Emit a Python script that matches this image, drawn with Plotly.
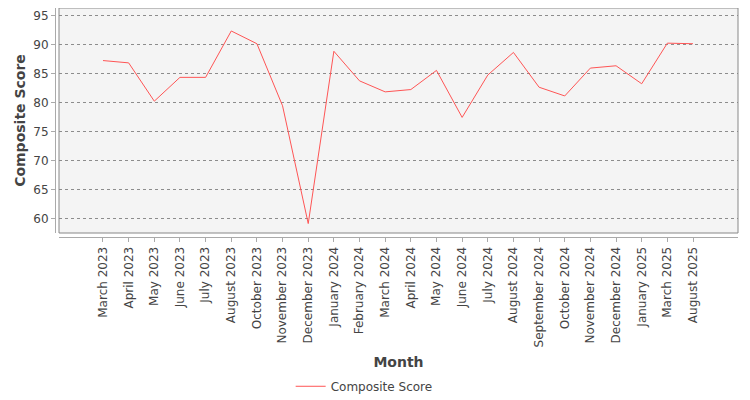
import plotly.graph_objs as go

months = [
    "March 2023", "April 2023", "May 2023", "June 2023", "July 2023",
    "August 2023", "October 2023", "November 2023", "December 2023",
    "January 2024", "February 2024", "March 2024", "April 2024", "May 2024",
    "June 2024", "July 2024", "August 2024", "September 2024", "October 2024",
    "November 2024", "December 2024", "January 2025", "March 2025", "August 2025",
]
composite_score = [
    87.2, 86.8, 80.2, 84.3, 84.3, 92.3, 90.1, 79.4, 59.1,
    88.8, 83.7, 81.8, 82.2, 85.5, 77.4, 84.7, 88.6, 82.6,
    81.1, 85.9, 86.3, 83.2, 90.2, 90.1,
]

# page body adds an 8px offset, so the figure is drawn 8px smaller
W, H = 742, 392
ml, mr, mt, mb = 47, 12, 0, 163
pw, ph = W - ml - mr, H - mt - mb
gap = 4

fig = go.Figure()
fig.add_trace(
    go.Scatter(
        x=months,
        y=composite_score,
        mode="lines",
        name="Composite Score",
        line=dict(color="#ff5555", width=1),
    )
)

fig.update_layout(
    width=W, height=H,
    margin=dict(l=ml, r=mr, t=mt, b=mb, autoexpand=False),
    paper_bgcolor="white",
    plot_bgcolor="#f4f4f4",
    font=dict(family="DejaVu Sans", size=12, color="#444444"),
    showlegend=True,
    legend=dict(
        orientation="h",
        xref="container", yref="container",
        x=0.48, xanchor="center",
        y=0.035, yanchor="middle",
        font=dict(size=12, color="#444444"),
        itemwidth=30,
    ),
    shapes=[
        dict(
            type="rect", xref="x domain", yref="y domain",
            x0=0, x1=1, y0=0, y1=1,
            line=dict(color="#888888", width=1),
            fillcolor="rgba(0,0,0,0)",
            layer="above",
        )
    ],
)

fig.update_xaxes(
    type="category",
    domain=[gap / pw, 1],
    anchor="free", position=0,
    range=[-1.715, 24.754],
    automargin=False,
    showgrid=False,
    showline=True, linecolor="#aaaaaa", linewidth=1,
    ticks="outside", ticklen=4, tickcolor="#aaaaaa",
    tickangle=-90,
    tickfont=dict(size=12, color="#444444"),
    title=dict(text="<b>Month</b>", font=dict(size=14, color="#444444"), standoff=10),
    zeroline=False,
)
fig.update_yaxes(
    domain=[gap / ph, 1],
    anchor="free", position=0,
    range=[57.47, 96.26],
    automargin=False,
    tickvals=[60, 65, 70, 75, 80, 85, 90, 95],
    showgrid=True, gridcolor="#8c8c8c", griddash="dot", gridwidth=1,
    showline=True, linecolor="#aaaaaa", linewidth=1,
    ticks="outside", ticklen=4, tickcolor="#aaaaaa",
    tickfont=dict(size=12, color="#444444"),
    title=dict(text="<b>Composite Score</b>", font=dict(size=14, color="#444444"), standoff=3),
    zeroline=False,
)

fig.write_html("out.html")
